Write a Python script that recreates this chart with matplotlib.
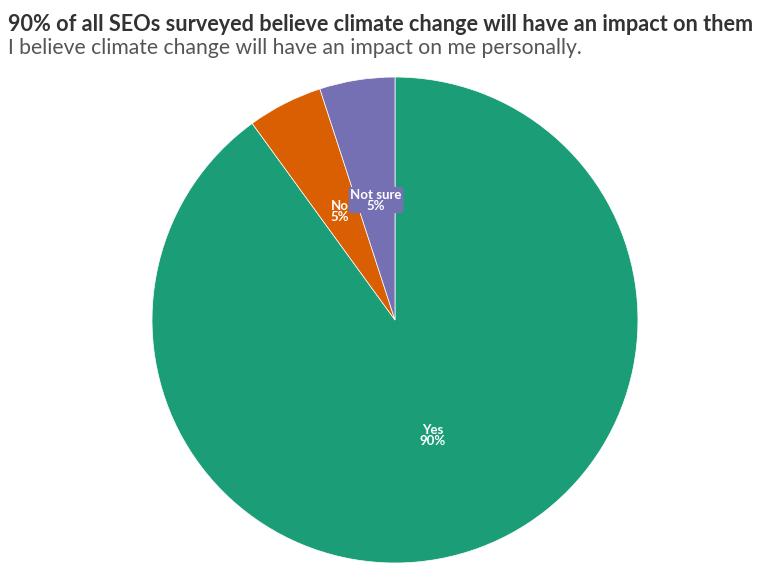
import matplotlib.pyplot as plt

labels = ['Yes', 'No', 'Not sure']
values = [90, 5, 5]
colors = ['#1b9e77', '#d95f02', '#7570b3']

plt.rcParams['font.family'] = ['Lato', 'DejaVu Sans']

fig = plt.figure(figsize=(7.8, 5.68), dpi=100)
fig.text(0.010, 0.9577, '90% of all SEOs surveyed believe climate change will have an impact on them',
         fontsize=15.6, fontweight='bold', color='#333333', va='center', ha='left')
fig.text(0.010, 0.9155, 'I believe climate change will have an impact on me personally.',
         fontsize=15.2, color='#555555', va='center', ha='left')

ax = fig.add_axes([0.1949, 0.0088, 0.623, 0.8556])
wedges, texts = ax.pie(values, colors=colors, startangle=90, counterclock=False,
                       wedgeprops=dict(edgecolor='white', linewidth=0.5),
                       labels=[f'{l}\n{v}%' for l, v in zip(labels, values)],
                       labeldistance=0.5,
                       textprops=dict(color='white', fontsize=9.5, fontweight='bold',
                                      ha='center', va='center', linespacing=0.9))
texts[2].set_bbox(dict(facecolor=colors[2], edgecolor='none', boxstyle='round,pad=0.12'))
texts[1].set_zorder(texts[2].get_zorder() + 1)
ax.set_xlim(-1, 1)
ax.set_ylim(-1, 1)
ax.set_aspect('equal')

fig.savefig('out.png', dpi=100)
